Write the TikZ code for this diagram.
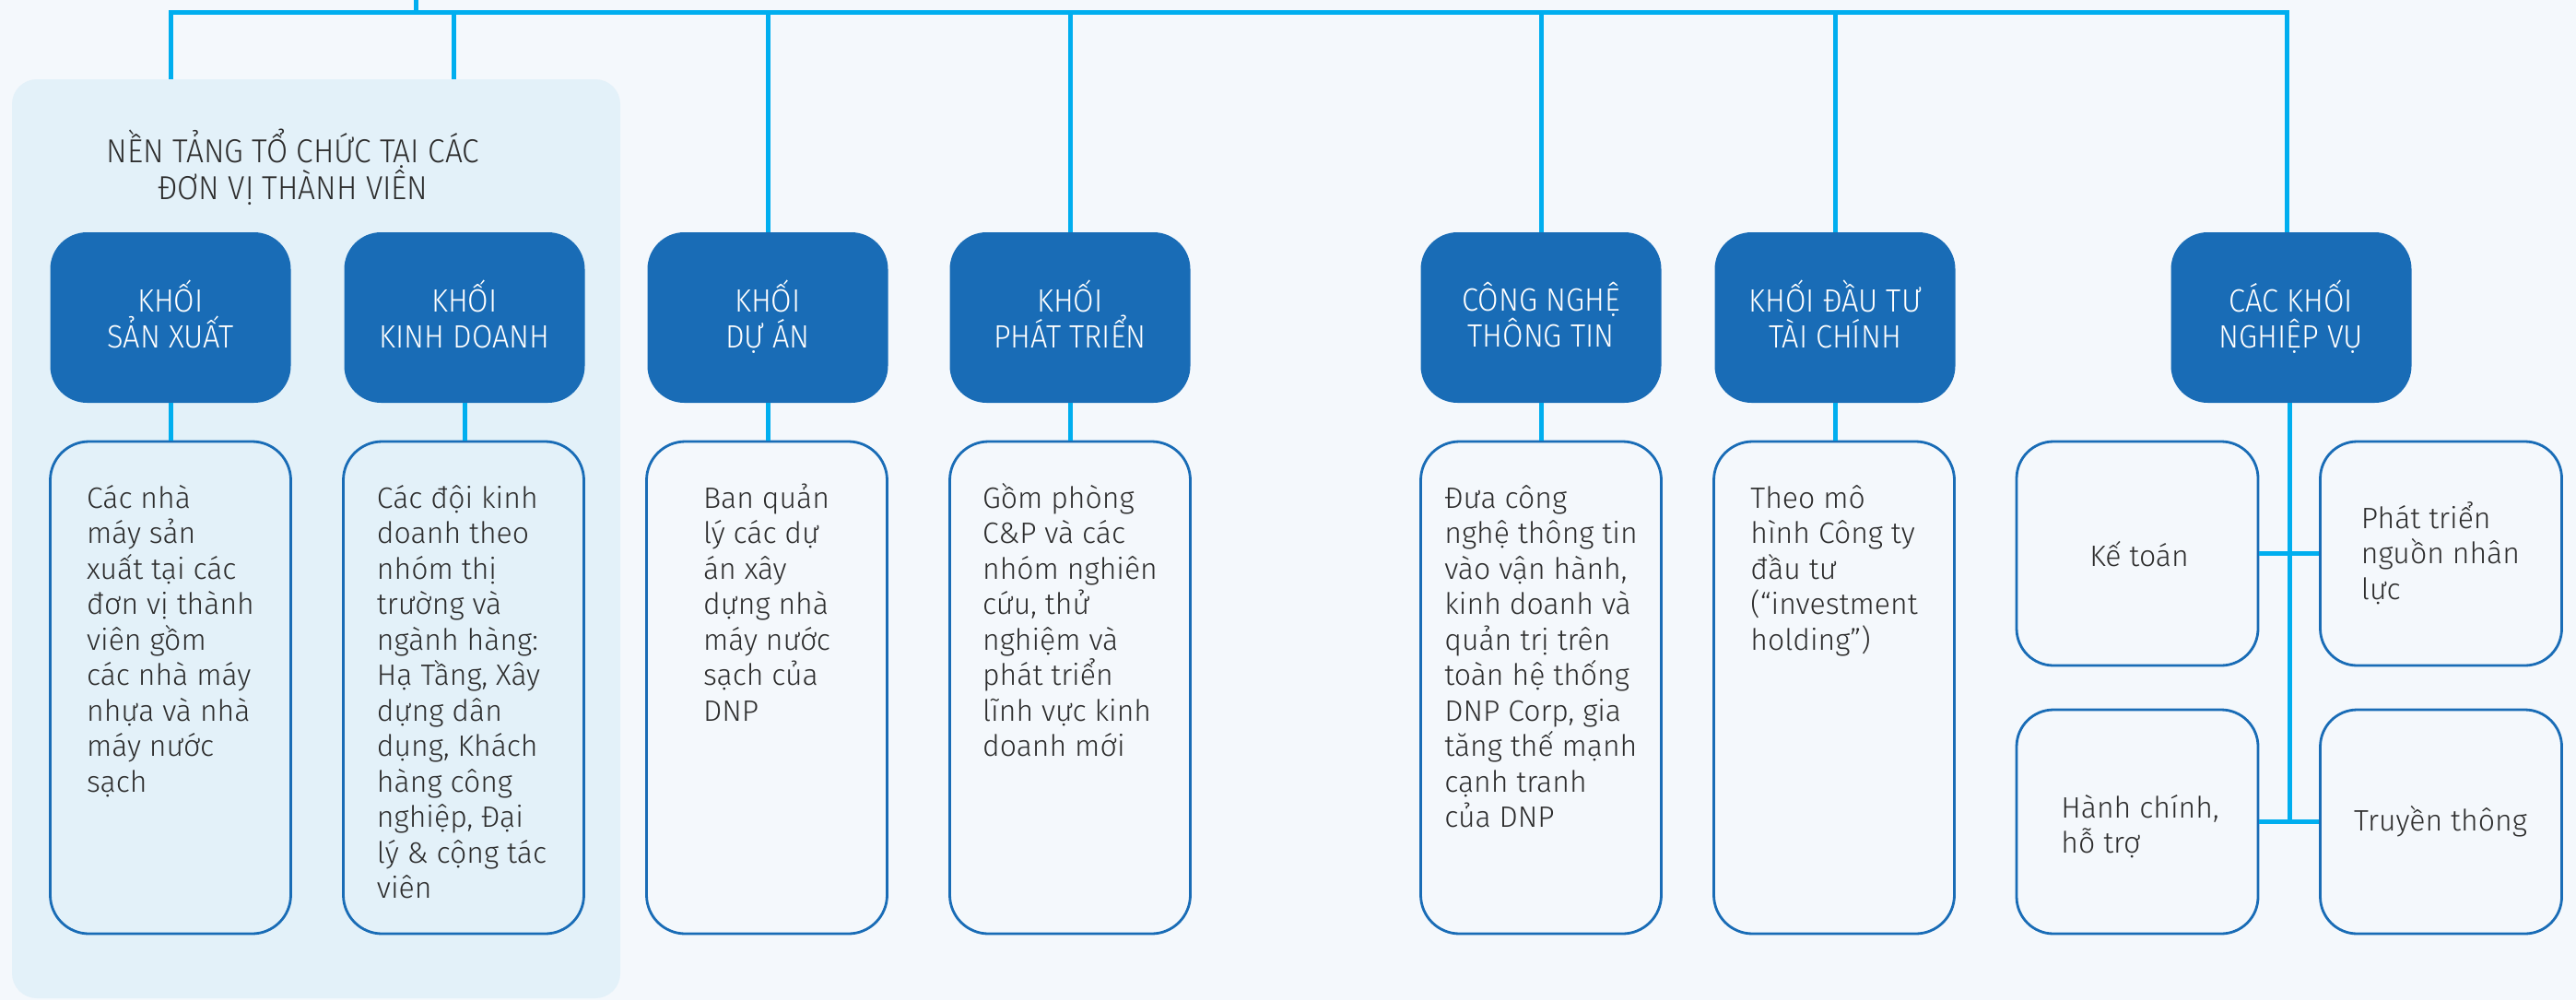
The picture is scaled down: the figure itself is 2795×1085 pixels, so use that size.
\documentclass[tikz,border=0pt]{standalone}
\usepackage{fontspec}
\setmainfont{Fira Sans Light}
\newfontfamily\titlefont{Fira Sans Light}[FakeStretch=0.93]
\definecolor{bgc}{RGB}{244,248,252}
\definecolor{panelc}{RGB}{227,241,249}
\definecolor{darkb}{RGB}{25,108,182}
\definecolor{busc}{RGB}{0,174,239}
\definecolor{txtc}{RGB}{45,45,45}
\newcommand\topstr{\rule{0pt}{30pt}}
\newcommand\botstr{\rule[-7pt]{0pt}{7pt}}
\newcommand\firststr{\rule{0pt}{36pt}}
\begin{document}
\begin{tikzpicture}[x=1pt,y=-1pt,
  darkbox/.style={rectangle, fill=darkb, rounded corners=40pt, minimum width=261pt, minimum height=185pt, inner sep=0pt, text=white, align=center, font=\titlefont\fontsize{35}{39}\selectfont},
  descbox/.style={rectangle, draw=darkb, line width=2.8pt, rounded corners=42pt, minimum width=261pt, minimum height=534pt, inner sep=0pt},
  smallbox/.style={rectangle, draw=darkb, line width=2.8pt, rounded corners=40pt, minimum width=262pt, minimum height=243pt, inner sep=0pt},
  desctext/.style={anchor=north, inner sep=0pt, align=left, text=txtc, font=\fontsize{32}{38.5}\selectfont},
  bus/.style={draw=busc, line width=5pt}]
\useasboundingbox (0,0) rectangle (2795,1085);
\fill[bgc] (0,0) rectangle (2795,1085);
% panel
\node[rectangle, fill=panelc, rounded corners=27pt, minimum width=660pt, minimum height=997pt, inner sep=0pt] (panel) at (343,584.5) {};
\node[anchor=north, inner sep=0pt, align=center, text=txtc, font=\titlefont\fontsize{36}{37}\selectfont] (paneltitle) at (318,140) {\firststr NỀN TẢNG TỔ CHỨC TẠI CÁC\\ĐƠN VỊ THÀNH VIÊN};
% dark boxes
\node[darkbox] (sx) at (185,344.5) {\topstr KHỐI\\SẢN XUẤT\botstr};
\node[darkbox] (kd) at (504,344.5) {\topstr KHỐI\\KINH DOANH\botstr};
\node[darkbox] (da) at (833,344.5) {\topstr KHỐI\\DỰ ÁN\botstr};
\node[darkbox] (pt) at (1161,344.5) {\topstr KHỐI\\PHÁT TRIỂN\botstr};
\node[darkbox] (cn) at (1672,344.5) {\topstr CÔNG NGHỆ\\THÔNG TIN\botstr};
\node[darkbox] (dt) at (1991,344.5) {\topstr KHỐI ĐẦU TƯ\\TÀI CHÍNH\botstr};
\node[darkbox] (nv) at (2486,344.5) {\topstr CÁC KHỐI\\NGHIỆP VỤ\botstr};
% description boxes
\node[descbox] (sxd) at (185,746) {};
\node[descbox] (kdd) at (503,746) {};
\node[descbox] (dad) at (832,746) {};
\node[descbox] (ptd) at (1161,746) {};
\node[descbox] (cnd) at (1672,746) {};
\node[descbox] (dtd) at (1990,746) {};
\node[desctext] (sxt) at (185,515) {\firststr Các nhà\\máy sản\\xuất tại các\\đơn vị thành\\viên gồm\\các nhà máy\\nhựa và nhà\\máy nước\\sạch};
\node[desctext] (kdt) at (501,515) {\firststr Các đội kinh\\doanh theo\\nhóm thị\\trường và\\ngành hàng:\\Hạ Tầng, Xây\\dựng dân\\dụng, Khách\\hàng công\\nghiệp, Đại\\lý \& cộng tác\\viên};
\node[desctext] (dat) at (832,515) {\firststr Ban quản\\lý các dự\\án xây\\dựng nhà\\máy nước\\sạch của\\DNP};
\node[desctext] (ptt) at (1161,515) {\firststr Gồm phòng\\C\&P và các\\nhóm nghiên\\cứu, thử\\nghiệm và\\phát triển\\lĩnh vực kinh\\doanh mới};
\node[desctext] (cnt) at (1672,515) {\firststr Đưa công\\nghệ thông tin\\vào vận hành,\\kinh doanh và\\quản trị trên\\toàn hệ thống\\DNP Corp, gia\\tăng thế mạnh\\cạnh tranh\\của DNP};
\node[desctext] (dtt) at (1990,515) {\firststr Theo mô\\hình Công ty\\đầu tư\\(“investment\\holding”)};
% small boxes
\node[smallbox] (kt) at (2319,600.5) {};
\node[smallbox] (ns) at (2648.5,600.5) {};
\node[smallbox] (hc) at (2319,891.5) {};
\node[smallbox] (tt) at (2648.5,891.5) {};
\node[anchor=base, inner sep=0pt, text=txtc, font=\fontsize{32}{38.5}\selectfont] (ktt) at (2321,614) {Kế toán};
\node[desctext] (nst) at (2648,537) {\firststr Phát triển\\nguồn nhân\\lực};
\node[desctext] (hct) at (2322,851) {\firststr Hành chính,\\hỗ trợ};
\node[anchor=base, inner sep=0pt, text=txtc, font=\fontsize{32}{38.5}\selectfont] (ttt) at (2648,901) {Truyền thông};
% connectors
\coordinate (root) at (451,0);
\coordinate (bL) at (185,13);
\coordinate (bR) at (2481,13);
\coordinate (kdb) at (492,13);
\draw[bus] (bL |- panel.north) -- (bL) -- (bR) -- (bR |- nv.north);
\draw[bus] (root) -- (root |- bL);
\draw[bus] (kdb) -- (kdb |- panel.north);
\draw[bus] (da.north |- bL) -- (da.north);
\draw[bus] (pt.north |- bL) -- (pt.north);
\draw[bus] (cn.north |- bL) -- (cn.north);
\draw[bus] (dt.north |- bL) -- (dt.north);
\draw[bus] (sx.south) -- (sx.south |- sxd.north);
\draw[bus] (kd.south) -- (kd.south |- kdd.north);
\draw[bus] (da.south) -- (da.south |- dad.north);
\draw[bus] (pt.south) -- (pt.south |- ptd.north);
\draw[bus] (cn.south) -- (cn.south |- cnd.north);
\draw[bus] (dt.south) -- (dt.south |- dtd.north);
\coordinate (nvx) at (2484,437);
\draw[bus] (nvx) -- (nvx |- hc.east);
\draw[bus] (kt.east) -- (ns.west);
\draw[bus] (hc.east) -- (tt.west);
\end{tikzpicture}
\end{document}
